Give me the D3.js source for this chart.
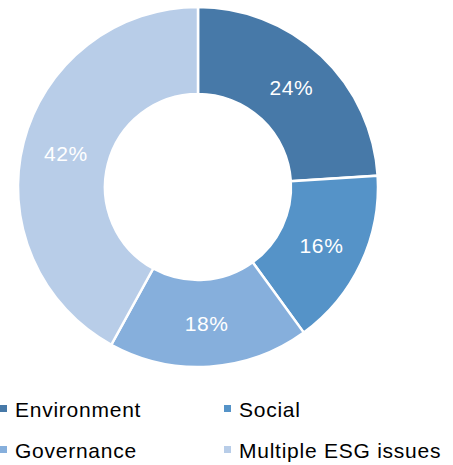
<!DOCTYPE html>
<html>
<head>
<meta charset="utf-8">
<script src="https://cdn.jsdelivr.net/npm/d3@7"></script>
<style>
  body { margin: 0; background: #fff; }
  svg { display: block; font-family: "Liberation Sans", Arial, sans-serif; }
</style>
</head>
<body>
<div id="vis"></div>
<script>
const categories = ["Environment", "Social", "Governance", "Multiple ESG issues"];
const shares = [24, 16, 18, 42];
const colors = ["#4779a8", "#5593c8", "#86afdc", "#b8cde8"];

const FRAME_WIDTH = 453;
const FRAME_HEIGHT = 465;
const CENTER = { x: 198, y: 187 };
const OUTER_R = 180;
const INNER_R = 93;

const FRAME = d3.select('#vis')
  .append('svg')
  .attr('width', FRAME_WIDTH)
  .attr('height', FRAME_HEIGHT);

const data = categories.map((c, i) => ({ name: c, value: shares[i] }));

const COLOR = d3.scaleOrdinal().domain(categories).range(colors);

const pie = d3.pie()
  .value(d => d.value)
  .sort(null);

const arc = d3.arc()
  .innerRadius(INNER_R)
  .outerRadius(OUTER_R);

const labelArc = d3.arc()
  .innerRadius((INNER_R + OUTER_R) / 2)
  .outerRadius((INNER_R + OUTER_R) / 2);

const g = FRAME.append('g')
  .attr('transform', `translate(${CENTER.x},${CENTER.y})`);

const arcs = pie(data);

g.selectAll('path')
  .data(arcs)
  .enter()
  .append('path')
  .attr('d', arc)
  .attr('fill', d => COLOR(d.data.name))
  .attr('stroke', '#fff')
  .attr('stroke-width', 2.5);

g.selectAll('text')
  .data(arcs)
  .enter()
  .append('text')
  .attr('x', d => labelArc.centroid(d)[0])
  .attr('y', d => labelArc.centroid(d)[1])
  .attr('dy', '0.36em')
  .attr('text-anchor', 'middle')
  .attr('fill', '#fff')
  .attr('font-size', 21)
  .attr('letter-spacing', 0.6)
  .text(d => d.data.value + '%');

// legend, two columns
const legendX = d3.scaleOrdinal().domain([0, 1]).range([0, 224]);
const legendY = d3.scaleOrdinal().domain([0, 1]).range([409, 450]);

const legend = FRAME.selectAll('.legend')
  .data(categories)
  .enter()
  .append('g')
  .attr('class', 'legend')
  .attr('transform', (d, i) => `translate(${legendX(i % 2)},${legendY(Math.floor(i / 2))})`);

legend.append('rect')
  .attr('x', 0)
  .attr('y', -4)
  .attr('width', 7)
  .attr('height', 7)
  .attr('fill', d => COLOR(d));

legend.append('text')
  .attr('x', 15)
  .attr('y', 0)
  .attr('dy', '0.36em')
  .attr('font-size', 21)
  .attr('letter-spacing', 0.75)
  .attr('fill', '#000')
  .text(d => d);
</script>
</body>
</html>
